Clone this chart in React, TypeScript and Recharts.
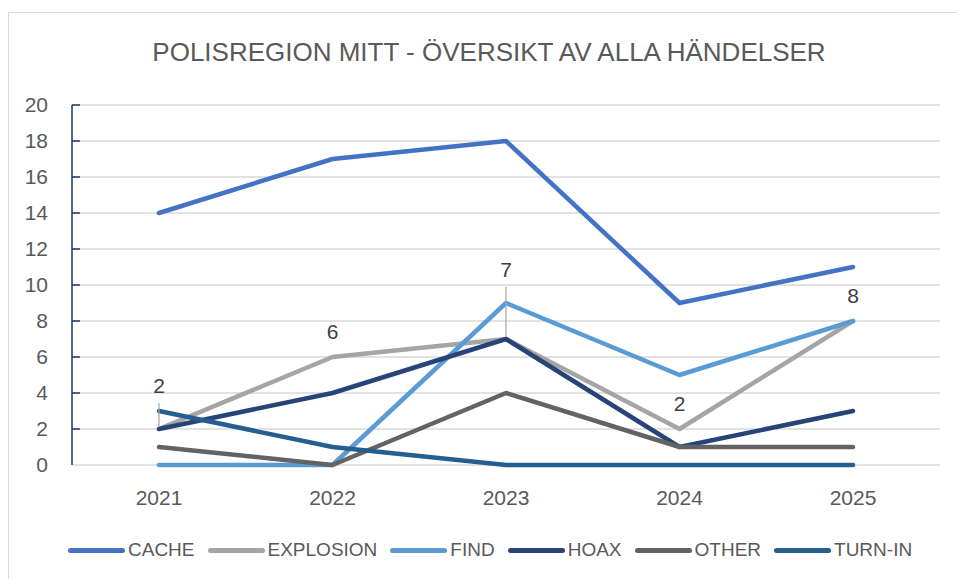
import React from 'react';
import { LineChart, Line, XAxis, YAxis, CartesianGrid, Legend, LabelList } from 'recharts';

const YEARS = ['2021', '2022', '2023', '2024', '2025'];
const CACHE = [14, 17, 18, 9, 11];
const EXPLOSION = [2, 6, 7, 2, 8];
const FIND = [0, 0, 9, 5, 8];
const HOAX = [2, 4, 7, 1, 3];
const OTHER = [1, 0, 4, 1, 1];
const TURN_IN = [3, 1, 0, 0, 0];
const Y_TICKS = [0, 2, 4, 6, 8, 10, 12, 14, 16, 18, 20];

const SERIES = [
  { key: 'CACHE', values: CACHE, color: '#4472C4' },
  { key: 'EXPLOSION', values: EXPLOSION, color: '#A5A5A5' },
  { key: 'FIND', values: FIND, color: '#5B9BD5' },
  { key: 'HOAX', values: HOAX, color: '#264478' },
  { key: 'OTHER', values: OTHER, color: '#636363' },
  { key: 'TURN-IN', values: TURN_IN, color: '#255E91' },
];

const data = YEARS.map((year, i) => {
  const row: Record<string, string | number> = { year };
  SERIES.forEach((s) => {
    row[s.key] = s.values[i];
  });
  return row;
});

const FONT = '"Liberation Sans", Arial, sans-serif';
const TEXT = '#595959';
const AXIS = '#1F3864';
const GRID = '#D9D9D9';

// labels that Excel pushed further up get a leader line back to the point
const LABEL_LIFT = [18, 0, 44, 0, 0];

const ExplosionLabel = (props: any) => {
  const { x, y, value, index } = props;
  const lift = LABEL_LIFT[index] || 0;
  const ty = y - 25 - lift;
  return (
    <g>
      {lift > 0 && <line x1={x} x2={x} y1={ty + 17} y2={y - 2} stroke="#A6A6A6" strokeWidth={1.2} />}
      <text x={x} y={ty} dy="0.35em" textAnchor="middle" fontSize={21} fill="#404040">
        {value}
      </text>
    </g>
  );
};

const YTick = (props: any) => {
  const { x, y, payload } = props;
  return (
    <g>
      {payload.value !== 0 && <line x1={x} x2={x + 8} y1={y} y2={y} stroke={AXIS} strokeWidth={1.5} />}
      <text x={x - 24} y={y} dy="0.35em" textAnchor="end" fontSize={21} fill={TEXT}>
        {payload.value}
      </text>
    </g>
  );
};

const LegendContent = () => (
  <div style={{ display: 'flex', alignItems: 'center', height: 24, paddingLeft: 68, fontSize: 19, color: TEXT, whiteSpace: 'nowrap' }}>
    {SERIES.map((s, i) => (
      <div key={s.key} style={{ display: 'flex', alignItems: 'center', flexShrink: 0, marginRight: i < SERIES.length - 1 ? 13 : 0 }}>
        <span style={{ display: 'inline-block', width: 57, height: 5, borderRadius: 3, background: s.color, marginRight: 3 }} />
        <span>{s.key}</span>
      </div>
    ))}
  </div>
);

const App: React.FC = () => {
  return (
    <div style={{ position: 'absolute', left: 0, top: 0, width: 957, height: 579, overflow: 'hidden', background: '#fff', fontFamily: FONT }}>
      {/* chart frame, runs off the right and bottom */}
      <div style={{ position: 'absolute', left: 8, top: 12, width: 980, height: 620, border: `1px solid ${GRID}` }} />
      <div style={{ position: 'absolute', left: 0, top: 37, width: 978, textAlign: 'center', fontSize: 26, lineHeight: '30px', color: TEXT }}>
        POLISREGION MITT - ÖVERSIKT AV ALLA HÄNDELSER
      </div>
      <LineChart width={957} height={579} data={data} margin={{ top: 105, right: 17, bottom: 17, left: 0 }} style={{ position: 'absolute', left: 0, top: 0 }}>
        <CartesianGrid vertical={false} stroke={GRID} strokeWidth={1.3} />
        <XAxis dataKey="year" axisLine={false} tickLine={false} tickSize={0} tickMargin={25} height={73} padding={{ left: 87, right: 87 }} tick={{ fontSize: 21, fill: TEXT }} />
        <YAxis domain={[0, 20]} ticks={Y_TICKS} width={72} tickSize={0} tickMargin={0} tickLine={false} axisLine={{ stroke: AXIS, strokeWidth: 1.5 }} tick={<YTick />} interval={0} />
        <Legend verticalAlign="bottom" content={<LegendContent />} />
        {SERIES.map((s) => (
          <Line
            key={s.key}
            dataKey={s.key}
            stroke={s.color}
            strokeWidth={4.5}
            strokeLinecap="round"
            strokeLinejoin="round"
            dot={false}
            activeDot={false}
            isAnimationActive={false}
          >
            {s.key === 'EXPLOSION' && <LabelList dataKey={s.key} content={<ExplosionLabel />} />}
          </Line>
        ))}
      </LineChart>
    </div>
  );
};

export default App;
